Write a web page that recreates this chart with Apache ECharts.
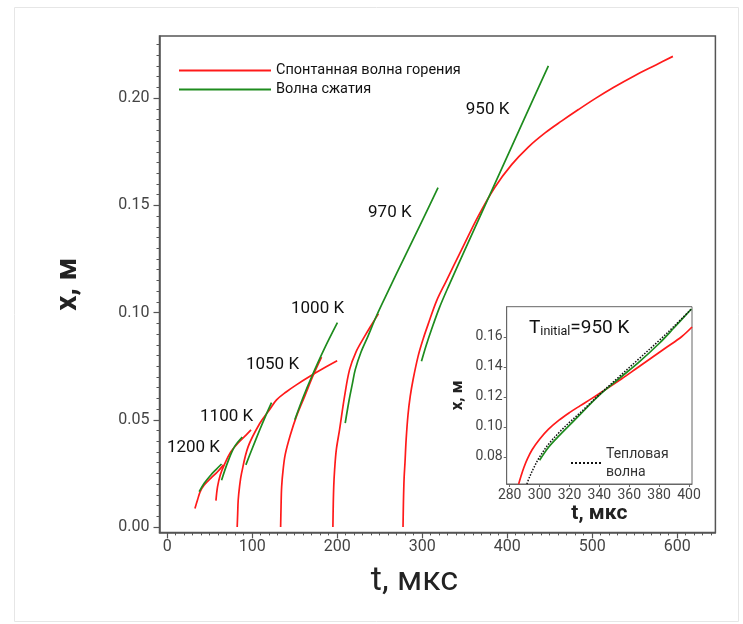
<!DOCTYPE html>
<html><head><meta charset="utf-8">
<script src="https://cdn.jsdelivr.net/npm/echarts/dist/echarts.min.js"></script>
<style>html,body{margin:0;padding:0;background:#fff}#c{width:743px;height:624px}</style>
</head><body><div id="c"></div>
<script>
// ---- data (t in мкс, x in м) ----
const legendNames = ['Спонтанная волна горения', 'Волна сжатия'];
const red1200 = [[32.7,0.0087],[35.7,0.0126],[38.9,0.0165],[43.6,0.0196],[51.5,0.0228],[59.3,0.0258],[66.4,0.0290]];
const green1200 = [[37.7,0.0165],[43.6,0.0204],[51.5,0.0243],[57.5,0.0268],[64.0,0.0294]];
const red1100 = [[57.4,0.0123],[59.3,0.0188],[62.5,0.0243],[67.2,0.0290],[75.0,0.0351],[84.9,0.0398],[92.8,0.0429],[98.7,0.0453]];
const green1100 = [[64.0,0.0218],[71.5,0.0305],[79.3,0.0375],[88.4,0.0420]];
const red1050 = [[82.4,0],[83.0,0.0065],[83.6,0.0126],[85.2,0.0190],[87.5,0.0250],[95.3,0.0375],[109.1,0.0484],[120,0.0545],[128.7,0.0593],[140,0.0630],[152,0.0663],[168,0.0703],[184,0.0740],[200,0.0775]];
const green1050 = [[92.6,0.0290],[100,0.0365],[109.1,0.0455],[116,0.0520],[122.8,0.0580]];
const red1000 = [[133.5,0],[134.0,0.0095],[134.7,0.0188],[136.5,0.0270],[139,0.0340],[145,0.0430],[152,0.0515],[162,0.0612],[172,0.0709],[181.6,0.0792]];
const green1000 = [[150.2,0.0500],[160,0.0605],[170,0.0701],[185,0.0832],[200.3,0.0953]];
const red970 = [[195,0],[195.4,0.010],[196,0.019],[197,0.0266],[199,0.036],[202.8,0.0453],[208.7,0.0609],[214.6,0.0734],[222,0.0815],[232.3,0.0889],[240,0.0940],[248.5,0.0995]];
const green970 = [[209.5,0.0485],[214,0.0590],[218,0.0670],[221.3,0.0734],[228,0.0815],[236.2,0.0889],[246.1,0.0983],[260,0.1100],[280,0.1265],[300,0.1428],[318.7,0.1583]];
const red950 = [[277.5,0],[278.0,0.012],[278.8,0.023],[279.8,0.030],[281.2,0.041],[283.4,0.0525],[286,0.061],[289.3,0.0687],[295.2,0.0796],[301,0.0875],[307,0.0945],[317,0.1055],[328,0.1145],[346,0.1290],[366,0.1450],[385.6,0.1585],[405.3,0.1690],[424.9,0.1772],[444.6,0.1838],[464.3,0.1894],[483.9,0.1947],[503.5,0.1998],[525,0.2050],[550,0.2105],[575,0.2155],[595,0.2195]];
const green950 = [[299.2,0.0773],[305,0.0850],[311,0.0921],[320,0.1020],[330.5,0.1118],[350,0.1290],[370,0.1465],[390,0.1640],[410,0.1815],[430,0.1990],[448.5,0.2151]];
const tempLabels = ['1200 K','1100 K','1050 K','1000 K','970 K','950 K'];
const tempLabelAt = [[31,0.0368],[70,0.0515],[124,0.0756],[177,0.1020],[262,0.1465],[377,0.1945]];
// inset (T_initial = 950 K)
const insetRed = [[286,0.062],[287.5,0.067],[289.5,0.073],[292,0.079],[295,0.0848],[300,0.0918],[306,0.0985],[313,0.1045],[320,0.1095],[327,0.1140],[335,0.1190],[345,0.1255],[355,0.1320],[365,0.1390],[375,0.1460],[385,0.1530],[395,0.1600],[402,0.1665]];
const insetGreen = [[300,0.0778],[306,0.0865],[313.3,0.0944],[326.7,0.1078],[340,0.1211],[353.3,0.1322],[366.7,0.1433],[380,0.1555],[390,0.1660],[401.6,0.1785]];
const insetThermal = [[291.5,0.062],[293,0.066],[296,0.0725],[300,0.0800],[306,0.0885],[313.3,0.0965],[320,0.1030],[326.7,0.1090],[340,0.1215],[353.3,0.1335],[366.7,0.1455],[380,0.1575],[390,0.1670],[401.6,0.1785]];
const thermalName = 'Тепловая волна';
// ticks
const xMajor = [0,100,200,300,400,500,600];
const yMajor = [0,0.05,0.10,0.15,0.20];
const insetXTicks = [280,300,320,340,360,380,400];
const insetYTicks = [0.08,0.10,0.12,0.14,0.16];

const xMinor = []; for (let v = 10; v <= 640; v += 10) if (v % 100) xMinor.push(v);
const yMinor = []; for (let i = 1; i <= 45; i++) if (i % 10) yMinor.push(Math.round(i * 5) / 1000);

const FF = 'Roboto, "Noto Sans", "DejaVu Sans", sans-serif';
const RED = '#ff1a1a', GREEN = '#1e8c1e';

function line(name, data, color, xi, extra) {
  return Object.assign({
    type: 'line', name, data, xAxisIndex: xi, yAxisIndex: xi,
    symbol: 'none', showSymbol: false, smooth: 0.35, silent: true,
    lineStyle: { color, width: 1.7 }, itemStyle: { color }, z: 3
  }, extra || {});
}

const series = [];
[red1200, red1100, red1050, red1000, red970, red950].forEach(d => series.push(line(legendNames[0], d, RED, 0)));
[green1200, green1100, green1050, green1000, green970, green950].forEach(d => series.push(line(legendNames[1], d, GREEN, 0)));
series.push({
  type: 'scatter', name: 'labels', xAxisIndex: 0, yAxisIndex: 0, silent: true,
  symbol: 'circle', symbolSize: 0.1, itemStyle: { color: '#fff', opacity: 1 }, z: 5,
  data: tempLabels.map((n, i) => ({ name: n, value: tempLabelAt[i] })),
  label: { show: true, position: [0, 0], align: 'center', verticalAlign: 'middle', formatter: '{b}',
           color: '#111', opacity: 1, fontSize: 17, fontFamily: FF, textBorderWidth: 0 }
});
series.push(line(legendNames[0], insetRed, RED, 2, { z: 4 }));
series.push(line(legendNames[1], insetGreen, GREEN, 2, { z: 5 }));
series.push(line(thermalName, insetThermal, '#111', 2, { z: 6, lineStyle: { color: '#111', width: 1.5, type: 'dotted' } }));

const axisCol = '#555';
const option = {
  animation: false,
  backgroundColor: '#fff',
  graphic: [{ type: 'rect', left: 12, top: 5, shape: { width: 724, height: 614 }, style: { fill: 'none', stroke: '#e6e6e6', lineWidth: 1 }, silent: true, z: -1 }],
  title: {
    left: 524, top: 314, z: 20,
    text: '{a|T}{s|initial}{a|=950 K}',
    textStyle: { fontWeight: 'normal', rich: {
      a: { fontSize: 19, fontWeight: 'normal', fontFamily: FF, color: '#111', verticalAlign: 'top', lineHeight: 19 },
      s: { fontSize: 12.5, fontWeight: 'normal', fontFamily: FF, color: '#111', verticalAlign: 'bottom', lineHeight: 12, padding: [10, 0, 0, 0] }
    } }
  },
  legend: [{
    data: legendNames, left: 173, top: 58, orient: 'vertical', z: 20,
    itemWidth: 92, itemHeight: 12, itemGap: 4, itemStyle: { opacity: 0 },
    textStyle: { fontSize: 14.5, color: '#111', fontFamily: FF, lineHeight: 14 }
  }, {
    data: [thermalName], left: 565, top: 440, orient: 'vertical', z: 20,
    itemWidth: 30, itemHeight: 12, itemStyle: { opacity: 0 },
    formatter: () => 'Тепловая\nволна',
    textStyle: { fontSize: 14, color: '#333', fontFamily: FF, lineHeight: 18 }
  }],
  grid: [
    { left: 159.5, right: 27.6, top: 36, bottom: 91.6, show: true, borderColor: axisCol, borderWidth: 1.5, backgroundColor: 'transparent' },
    { left: 506.7, right: 51, top: 306.7, bottom: 140, show: true, borderColor: '#666', borderWidth: 1, backgroundColor: '#fff' }
  ],
  xAxis: [
    { gridIndex: 0, type: 'value', min: -9, max: 645, position: 'bottom',
      axisLine: { onZero: false, lineStyle: { color: axisCol, width: 1.5 } },
      axisTick: { customValues: xMajor, length: 6, lineStyle: { color: axisCol, width: 1.2 } },
      axisLabel: { customValues: xMajor, margin: 7, color: '#444', fontSize: 16, fontFamily: FF },
      splitLine: { show: false },
      name: 't, мкс', nameLocation: 'middle', nameGap: 32,
      nameTextStyle: { fontSize: 34, color: '#222', fontFamily: FF, padding: [0, 46, 0, 0] } },
    { gridIndex: 0, type: 'value', min: -9, max: 645, position: 'bottom',
      axisLine: { show: false, onZero: false },
      axisTick: { customValues: xMinor, length: 3, lineStyle: { color: axisCol, width: 1 } },
      axisLabel: { show: false }, splitLine: { show: false } },
    { gridIndex: 1, type: 'value', min: 278, max: 402, position: 'bottom',
      axisLine: { onZero: false, lineStyle: { color: '#666', width: 1 } },
      axisTick: { customValues: insetXTicks, length: 3, lineStyle: { color: '#666' } },
      axisLabel: { customValues: insetXTicks, margin: 4, color: '#444', fontSize: 14, fontFamily: FF },
      splitLine: { show: false },
      name: 't, мкс', nameLocation: 'middle', nameGap: 15,
      nameTextStyle: { fontSize: 21, fontWeight: 'bold', color: '#222', fontFamily: FF } }
  ],
  yAxis: [
    { gridIndex: 0, type: 'value', min: -0.0025, max: 0.229, position: 'left',
      axisLine: { onZero: false, lineStyle: { color: axisCol, width: 1.5 } },
      axisTick: { customValues: yMajor, length: 6, lineStyle: { color: axisCol, width: 1.2 } },
      axisLabel: { customValues: yMajor, margin: 10, color: '#444', fontSize: 16, fontFamily: FF, formatter: v => v.toFixed(2) },
      splitLine: { show: false },
      name: 'x, м', nameLocation: 'middle', nameGap: 76, nameRotate: 90,
      nameTextStyle: { fontSize: 30, fontWeight: 'bold', color: '#222', fontFamily: FF } },
    { gridIndex: 0, type: 'value', min: -0.0025, max: 0.229, position: 'left',
      axisLine: { show: false, onZero: false },
      axisTick: { customValues: yMinor, length: 3, lineStyle: { color: axisCol, width: 1 } },
      axisLabel: { show: false }, splitLine: { show: false } },
    { gridIndex: 1, type: 'value', min: 0.062, max: 0.18, position: 'left',
      axisLine: { onZero: false, lineStyle: { color: '#666', width: 1 } },
      axisTick: { customValues: insetYTicks, length: 3, lineStyle: { color: '#666' } },
      axisLabel: { customValues: insetYTicks, margin: 4, color: '#444', fontSize: 14, fontFamily: FF, formatter: v => v.toFixed(2) },
      splitLine: { show: false },
      name: 'x, м', nameLocation: 'middle', nameGap: 40, nameRotate: 90,
      nameTextStyle: { fontSize: 17, fontWeight: 'bold', color: '#222', fontFamily: FF } }
  ],
  series
};
const chart = echarts.init(document.getElementById('c'), null, { renderer: 'canvas' });
chart.setOption(option);
</script></body></html>
